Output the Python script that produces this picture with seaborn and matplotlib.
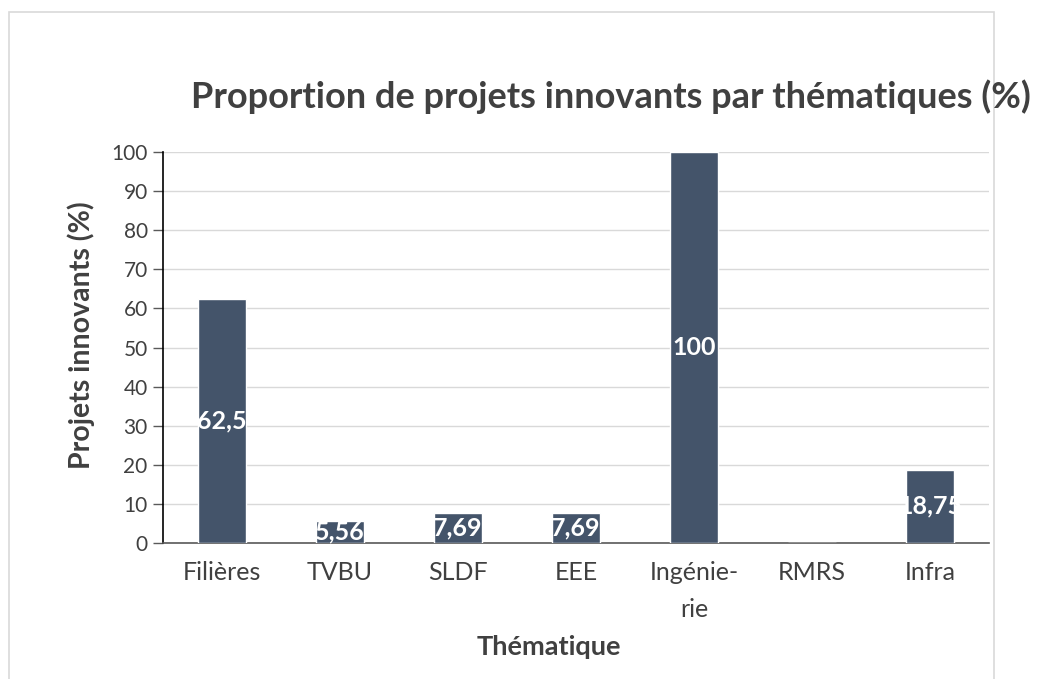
import matplotlib
matplotlib.use("Agg")
import matplotlib.pyplot as plt
import seaborn as sns
import pandas as pd
from matplotlib.patches import Rectangle

# data
themes = ["Filières", "TVBU", "SLDF", "EEE", "Ingénie-\nrie", "RMRS", "Infra"]
innovPct = [62.5, 5.56, 7.69, 7.69, 100, 0, 18.75]

barColor = "#44546A"
textColor = "#404040"


def makePlot():
    sns.set_style("white")
    plt.rcParams["font.family"] = ["Lato", "DejaVu Sans"]

    frame = pd.DataFrame({"theme": themes, "pct": innovPct})

    fig = plt.figure(figsize=(10.38, 6.79), dpi=100)
    ax = fig.add_axes([0.157, 0.2003, 0.7958, 0.5758])

    sns.barplot(data=frame, x="theme", y="pct", color=barColor,
                saturation=1, width=0.41, ax=ax, zorder=3)

    ax.set_ylim(0, 100)
    ax.set_yticks(range(0, 101, 10))
    ax.yaxis.grid(True, color="#d9d9d9", linewidth=1, zorder=0)
    ax.set_axisbelow(True)

    for s in ["top", "right"]:
        ax.spines[s].set_visible(False)
    ax.spines["left"].set_color("black")
    ax.spines["left"].set_linewidth(1.2)
    ax.spines["bottom"].set_color("#595959")
    ax.spines["bottom"].set_linewidth(1.2)

    ax.tick_params(axis="y", length=7, width=1, color="#595959",
                   labelsize=15, labelcolor=textColor, left=True, pad=4)
    ax.tick_params(axis="x", length=0, labelsize=18, labelcolor=textColor, pad=13)
    for lbl in ax.get_xticklabels():
        lbl.set_linespacing(1.75)

    # value labels in the middle of the bars, clipped to the bar
    for bar, v in zip(ax.patches, innovPct):
        if v == 0:
            continue
        txt = ax.text(bar.get_x() + bar.get_width() / 2, v / 2,
                      f"{v:g}".replace(".", ","), ha="center", va="center",
                      color="white", fontsize=18, fontweight="bold", zorder=4)
        txt.set_clip_path(bar)

    ax.set_xlabel("Thématique", fontsize=19.5, fontweight="bold",
                  color=textColor, labelpad=10)
    ax.set_ylabel("Projets innovants (%)", fontsize=20.5, fontweight="bold",
                  color=textColor, labelpad=12)
    # excel puts the axis titles a bit off centre
    ax.xaxis.label.set_x(0.467)
    ax.yaxis.label.set_y(0.532)

    fig.text(0.589, 0.857, "Proportion de projets innovants par thématiques (%)",
             ha="center", va="center", fontsize=26, fontweight="bold",
             color=textColor)

    # chart frame
    fig.patches.append(Rectangle((9 / 1038, -0.01), 985 / 1038, 0.992,
                                 transform=fig.transFigure, fill=False,
                                 edgecolor="#d9d9d9", linewidth=1.2, zorder=0))

    fig.savefig("out.png", dpi=100)


def main():
    makePlot()


if __name__ == "__main__":
    main()
